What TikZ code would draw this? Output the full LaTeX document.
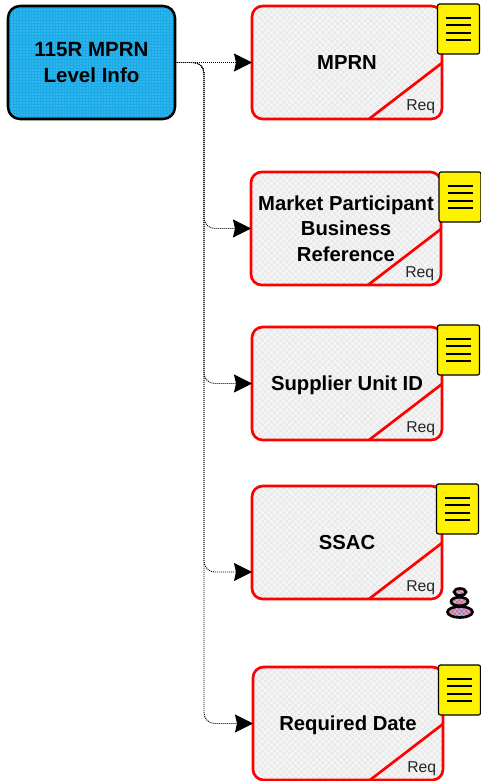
\documentclass[tikz,border=0pt]{standalone}
\usepackage{fontspec}
\setmainfont{Liberation Sans}
\usetikzlibrary{arrows.meta,patterns.meta}
\definecolor{rootblue}{HTML}{18ABE8}
\definecolor{reqred}{HTML}{FF0000}
\definecolor{boxgrey}{HTML}{EAEAEA}
\definecolor{stackpink}{HTML}{E8607F}
\definecolor{stackblue}{HTML}{A8C0F0}
\tikzset{
  rootbox/.style={draw=black,line width=1.9pt,rounded corners=9pt,preaction={fill=rootblue},
    pattern={Dots[distance=2.25pt,radius=.5pt]},pattern color=white!50!rootblue,
    minimum width=125.25pt,minimum height=84.75pt,outer sep=0pt,align=center,
    font=\fontsize{15.4}{19.2}\selectfont\bfseries},
  reqbox/.style={draw=reqred,line width=2pt,rounded corners=8pt,preaction={fill=boxgrey},
    pattern={Hatch[angle=45,distance=3.2pt,line width=.55pt]},pattern color=white!70!boxgrey,
    minimum width=142.5pt,minimum height=84.75pt,outer sep=0pt,align=center,text depth=0pt,
    font=\fontsize{15.2}{19.2}\selectfont\bfseries},
  reqline/.style={draw=reqred,line width=2pt},
  reqtext/.style={font=\fontsize{11.8}{13}\selectfont,text=black!85,inner sep=0pt},
  notebox/.style={draw=black,line width=.9pt,rounded corners=1.5pt,fill=yellow,
    minimum width=31.5pt,minimum height=37.5pt,outer sep=0pt},
  noteline/.style={line width=.9pt},
  link/.style={line width=.7pt,dash pattern=on .75pt off .75pt,rounded corners=8pt,
    -{Stealth[length=13.5pt,width=13.5pt,inset=1.5pt]}},
  stack/.style={draw=black,line width=2pt,preaction={fill=stackpink},
    pattern={Hatch[angle=45,distance=2.4pt,line width=.6pt]},pattern color=stackblue}
}
\begin{document}
\begin{tikzpicture}[x=0.75pt,y=-0.75pt]
\useasboundingbox (0,0) rectangle (481,781);
\node[rootbox] (root) at (91.5,62.5) {115R MPRN\\Level Info};
\foreach \n/\x/\y/\nx/\ny/\t in {%
  mprn/347/62.5/458.5/29/{MPRN},
  mpbr/346/228.5/460/197/{Market Participant\\Business\\Reference},
  suid/347/383.5/458.5/350/{Supplier Unit ID},
  ssac/347/542.5/457.5/509/{SSAC},
  rdate/348/723.5/459.5/690/{Required Date}}
{
  \node[reqbox] (\n) at (\x,\y) {\t};
  \draw[reqline] (\n.south east) ++(-73,0) -- ++(73,-56);
  \node[reqtext,anchor=base east] at ([shift={(-6.5,-8)}]\n.south east) {Req};
  \node[notebox] (note\n) at (\nx,\ny) {};
  \foreach \d in {-11,-4,4,11}
    \draw[noteline] ([shift={(-12.5,\d)}]note\n.center) -- ++(25,0);
}
\coordinate (trunk) at (204,62.5);
\coordinate (ssacin) at (252,572);
\draw[link] (root.east) -- (mprn.west);
\draw[link] (root.east) -- (trunk) |- (mpbr.west);
\draw[link] (root.east) -- (trunk) |- (suid.west);
\draw[link] (root.east) -- (trunk) |- (ssacin);
\draw[link] (root.east) -- (trunk) |- (rdate.west);
% stack icon under ssac
\draw[stack] (460,612) ellipse[x radius=12.5,y radius=5.5];
\draw[stack] (459.5,601.5) ellipse[x radius=8.5,y radius=4.3];
\draw[stack] (460,592) ellipse[x radius=6,y radius=3.5];
\end{tikzpicture}
\end{document}
